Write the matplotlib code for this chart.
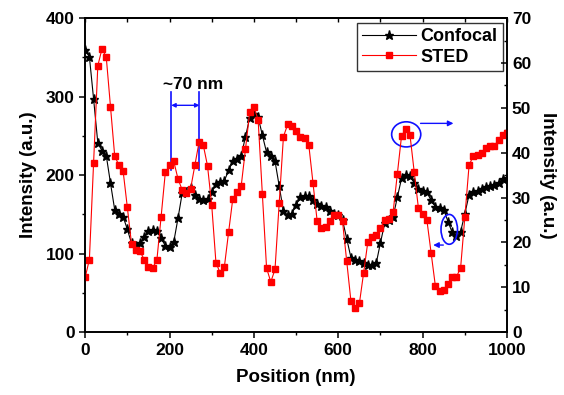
import numpy as np
import matplotlib
matplotlib.use('Agg')
import matplotlib.pyplot as plt
from matplotlib.patches import Ellipse
from matplotlib.ticker import MultipleLocator

plt.rcParams['font.family'] = ['Liberation Sans', 'DejaVu Sans']
plt.rcParams['font.weight'] = 'bold'

# === Данные ===
position = [0, 10, 20, 30, 40, 50, 60, 70, 80, 90,
            100, 110, 120, 130, 140, 150, 160, 170, 180, 190,
            200, 210, 220, 230, 240, 250, 260, 270, 280, 290,
            300, 310, 320, 330, 340, 350, 360, 370, 380, 390,
            400, 410, 420, 430, 440, 450, 460, 470, 480, 490,
            500, 510, 520, 530, 540, 550, 560, 570, 580, 590,
            600, 610, 620, 630, 640, 650, 660, 670, 680, 690,
            700, 710, 720, 730, 740, 750, 760, 770, 780, 790,
            800, 810, 820, 830, 840, 850, 860, 870, 880, 890,
            900, 910, 920, 930, 940, 950, 960, 970, 980, 990, 1000]

confocal = [360, 351, 297, 241, 231, 225, 190, 156, 151, 147,
            131, 113, 110, 113, 121, 129, 130, 129, 120, 110,
            109, 115, 145, 177, 179, 184, 175, 170, 169, 170,
            179, 189, 191, 193, 206, 218, 221, 225, 249, 273,
            278, 274, 251, 229, 224, 218, 186, 154, 149, 151,
            162, 172, 174, 173, 169, 163, 161, 160, 155, 150,
            149, 143, 119, 95, 92, 91, 88, 86, 85, 88,
            114, 139, 143, 147, 172, 196, 200, 199, 190, 182,
            180, 178, 168, 160, 158, 156, 141, 127, 122, 128,
            151, 175, 179, 180, 183, 185, 186, 187, 190, 195, 196]

sted = [12.2, 16.2, 37.8, 59.4, 63.2, 61.3, 50.3, 39.3, 37.2, 35.9,
        27.8, 19.6, 18.3, 18.0, 16.2, 14.6, 14.3, 16.1, 25.7, 35.6,
        37.2, 38.1, 34.2, 31.7, 31.1, 32.0, 37.2, 42.4, 41.7, 37.1,
        28.3, 15.5, 13.2, 14.6, 22.3, 29.8, 31.3, 32.7, 40.8, 49.0,
        50.3, 47.3, 30.8, 14.3, 11.2, 14.0, 28.9, 43.6, 46.3, 46.0,
        44.9, 43.6, 43.3, 41.8, 33.3, 24.7, 23.2, 23.4, 24.8, 26.2,
        26.2, 24.7, 15.8, 6.9, 5.4, 6.4, 13.2, 20.1, 21.3, 21.6,
        23.2, 25.0, 25.3, 26.8, 35.3, 43.8, 45.3, 43.9, 35.7, 27.6,
        26.3, 25.0, 17.7, 10.4, 9.2, 9.4, 10.7, 12.2, 12.3, 14.4,
        25.7, 37.2, 39.3, 39.4, 40.0, 41.1, 41.4, 41.5, 42.9, 44.0, 44.4]

blue = '#1010ff'

# === Построение ===
fig = plt.figure(figsize=(5.64, 3.95), dpi=100)
ax = fig.add_axes([0.151, 0.159, 0.748, 0.795])
ax2 = ax.twinx()

l1, = ax.plot(position, confocal, color='black', lw=0.8, marker='*',
              ms=6.5, label='Confocal', zorder=3)
l2, = ax2.plot(position, sted, color='red', lw=0.8, marker='s',
               ms=4.2, label='STED', zorder=2)

ax.set_xlim(0, 1000)
ax.set_ylim(0, 400)
ax2.set_ylim(0, 70)

ax.xaxis.set_major_locator(MultipleLocator(200))
ax.xaxis.set_minor_locator(MultipleLocator(100))
ax.yaxis.set_major_locator(MultipleLocator(100))
ax.yaxis.set_minor_locator(MultipleLocator(50))
ax2.yaxis.set_major_locator(MultipleLocator(10))
ax2.yaxis.set_minor_locator(MultipleLocator(5))

ax.tick_params(which='major', direction='out', length=4, width=1.1, labelsize=12.5)
ax.tick_params(which='minor', direction='out', length=2.5, width=1.0)
ax2.tick_params(which='major', direction='in', length=4, width=1.1, labelsize=12.5)
ax2.tick_params(which='minor', direction='in', length=2.5, width=1.0)

top = ax.secondary_xaxis('top')
top.xaxis.set_major_locator(MultipleLocator(200))
top.xaxis.set_minor_locator(MultipleLocator(100))
top.tick_params(which='both', direction='in', length=3, width=1.0, labeltop=False)

for a in (ax, ax2):
    for s in a.spines.values():
        s.set_linewidth(1.2)
for s in top.spines.values():
    s.set_linewidth(1.2)

ax.set_xlabel('Position (nm)', fontsize=13.5, fontweight='bold', labelpad=8)
ax.set_ylabel('Intensity (a.u.)', fontsize=13.5, fontweight='bold', labelpad=6)
ax2.set_ylabel('Intensity (a.u.)', fontsize=13.5, fontweight='bold',
               rotation=270, labelpad=18)

# === Аннотации ===
ax.plot([204, 204], [207, 306], color=blue, lw=1.2)
ax.plot([271, 271], [207, 306], color=blue, lw=1.2)
ax.annotate('', xy=(271, 289), xytext=(204, 289),
            arrowprops=dict(arrowstyle='<|-|>', color=blue, lw=1.0,
                            mutation_scale=6, shrinkA=0, shrinkB=0))
ax.text(257, 316, '~70 nm', ha='center', va='center', fontsize=12.5,
        fontweight='bold')

ax.add_patch(Ellipse((761, 252), 69, 32, fill=False, ec=blue, lw=1.2, zorder=5))
ax.annotate('', xy=(873, 266), xytext=(795, 266),
            arrowprops=dict(arrowstyle='-|>', color=blue, lw=1.0,
                            mutation_scale=8, shrinkA=0, shrinkB=0))
ax.add_patch(Ellipse((863, 131), 39, 38, fill=False, ec=blue, lw=1.2, zorder=5))
ax.annotate('', xy=(825, 111), xytext=(849, 111),
            arrowprops=dict(arrowstyle='-|>', color=blue, lw=1.0,
                            mutation_scale=8, shrinkA=0, shrinkB=0))

leg = ax.legend([l1, l2], ['Confocal', 'STED'], loc='upper right',
                prop={'weight': 'bold', 'size': 13},
                frameon=True, fancybox=False, edgecolor='black',
                borderaxespad=0.25, handlelength=3.0, handletextpad=0.2,
                borderpad=0.3, labelspacing=0.2)
leg.get_frame().set_linewidth(1.0)
leg.set_zorder(10)

fig.savefig('out.png', dpi=100)
